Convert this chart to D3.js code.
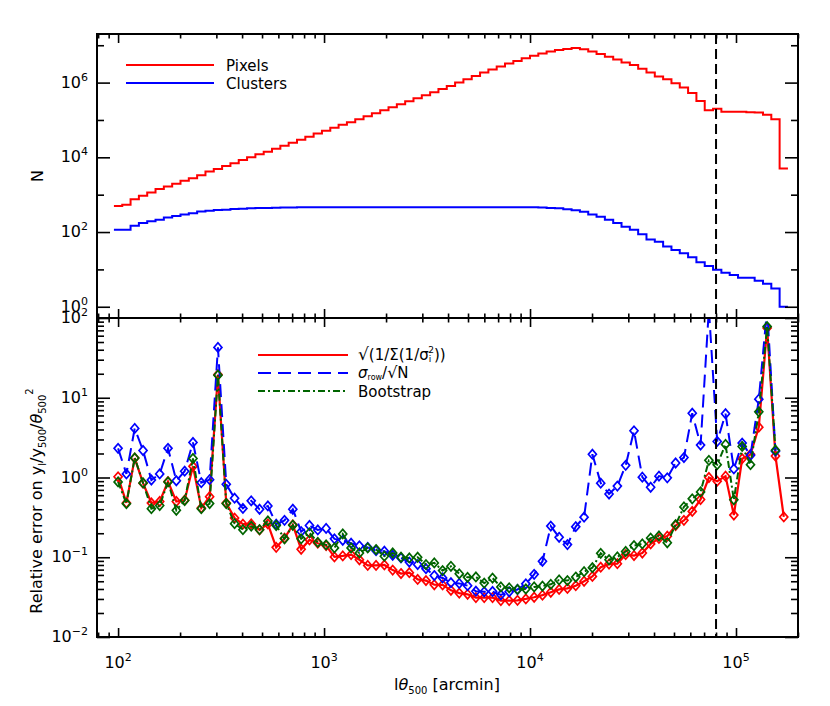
<!DOCTYPE html>
<html><head><meta charset="utf-8">
<script src="https://cdn.jsdelivr.net/npm/d3@7"></script>
<style>
body{margin:0;background:#fff}
text{font-family:"DejaVu Sans","Liberation Sans",sans-serif;fill:#000}
</style>
</head><body>
<svg id="c" width="830" height="706"></svg>
<script>
// ---------------- DATA ----------------
// logarithmic bins in l*theta500 (arcmin): first bin centre 10^2, width 0.0404 dex
const binCount = 81;
const firstBinLog = 2;
const binDex = 0.0404;
const binCenters = d3.range(binCount).map(i => Math.pow(10, firstBinLog + binDex * i));

// top panel: number of pixels / clusters per bin
const pixels = [
  501, 537, 759, 933, 1148, 1413, 1660, 1950, 2344, 2754,
  3311, 4169, 4898, 5888, 6918, 8511, 10000, 12023, 14125, 16982,
  20417, 24547, 29512, 35481, 43652, 51286, 61660, 74131, 87096, 104713,
  125893, 151356, 181970, 218776, 263027, 316228, 380189, 457088, 549541, 676083,
  812831, 1.0e6, 1.23e6, 1.51e6, 1.86e6, 2.24e6, 2.69e6, 3.24e6, 3.80e6, 4.47e6,
  5.25e6, 6.03e6, 6.76e6, 7.41e6, 7.94e6, 8.41e6, 7.76e6, 6.76e6, 5.82e6, 4.90e6,
  4.17e6, 3.47e6, 2.95e6, 2.34e6, 1.86e6, 1.45e6, 1.23e6, 9.55e5, 7.41e5, 5.25e5,
  3.24e5, 1.82e5, 2.00e5, 1.66e5, 1.66e5, 1.66e5, 1.62e5, 1.58e5, 1.38e5, 1.05e5,
  5.0e3
];
const clusters = [
  115, 115, 148, 174, 195, 214, 245, 269, 295, 316,
  355, 372, 389, 398, 412, 422, 432, 437, 442, 447,
  452, 457, 462, 462, 462, 462, 462, 462, 462, 462,
  462, 462, 462, 462, 462, 462, 462, 462, 462, 462,
  462, 462, 462, 462, 462, 462, 462, 462, 462, 462,
  462, 457, 442, 430, 407, 385, 347, 295, 257, 214,
  174, 138, 115, 87, 63, 55, 41, 33, 27, 21,
  15.5, 12.3, 9.8, 8.1, 7.1, 6.0, 6.0, 5.0, 4.1, 3.1,
  1.0
];

// bottom panel: relative error estimates
const errWeighted = [ // sqrt(1/sum(1/sigma_i^2))
  1.02, 0.48, 1.75, 0.85, 0.48, 0.50, 0.89, 0.50, 0.52, 1.38,
  0.415, 0.574, 19.5, 0.478, 0.31, 0.26, 0.262, 0.221, 0.262, 0.133,
  0.173, 0.255, 0.126, 0.165, 0.15, 0.14, 0.101, 0.104, 0.108, 0.093,
  0.079, 0.079, 0.080, 0.069, 0.0625, 0.064, 0.0527, 0.051, 0.0452, 0.045,
  0.0385, 0.0355, 0.0343, 0.0312, 0.0312, 0.0312, 0.0286, 0.0286, 0.0288, 0.030,
  0.0315, 0.0335, 0.0364, 0.0395, 0.0407, 0.044, 0.050, 0.0575, 0.075, 0.082,
  0.083, 0.108, 0.105, 0.113, 0.147, 0.172, 0.184, 0.25, 0.29, 0.376,
  0.53, 1.0, 0.90, 1.04, 0.338, 1.72, 1.95, 4.28, 75, 1.86,
  0.32
];
const errRaw = [ // sigma_row / sqrt(N)
  2.32, 1.11, 4.13, 2.18, 0.93, 1.11, 2.32, 0.91, 1.20, 2.75,
  0.86, 0.94, 42.8, 0.82, 0.55, 0.41, 0.51, 0.40, 0.44, 0.26,
  0.29, 0.40, 0.21, 0.25, 0.22, 0.23, 0.17, 0.163, 0.15, 0.139,
  0.133, 0.121, 0.119, 0.106, 0.098, 0.087, 0.081, 0.072, 0.059, 0.055,
  0.048, 0.047, 0.044, 0.0375, 0.0369, 0.0372, 0.0338, 0.0369, 0.0394, 0.0464,
  0.061, 0.089, 0.246, 0.178, 0.144, 0.242, 0.318, 1.96, 0.85, 0.62,
  0.78, 1.42, 3.85, 1.01, 0.755, 1.04, 0.99, 1.52, 1.78, 6.4,
  2.55, 130, 2.83, 6.3, 1.28, 2.70, 1.90, 9.6, 130, 2.14,
  null
];
const errBootstrap = [
  0.88, 0.47, 1.76, 0.855, 0.407, 0.445, 0.88, 0.388, 0.514, 1.73,
  0.407, 0.471, 19.2, 0.471, 0.264, 0.222, 0.245, 0.222, 0.285, 0.25,
  0.170, 0.252, 0.170, 0.202, 0.154, 0.143, 0.131, 0.196, 0.131, 0.113,
  0.131, 0.125, 0.103, 0.113, 0.100, 0.098, 0.100, 0.081, 0.085, 0.068,
  0.077, 0.062, 0.056, 0.0566, 0.0474, 0.0548, 0.0425, 0.0414, 0.0395, 0.040,
  0.0425, 0.0435, 0.0458, 0.052, 0.051, 0.0565, 0.066, 0.074, 0.112, 0.093,
  0.101, 0.118, 0.14, 0.147, 0.174, 0.185, 0.152, 0.256, 0.428, 0.54,
  0.66, 1.64, 1.45, 2.6, 0.525, 2.45, 1.45, 6.66, 78, 2.2,
  null
];

const xTickExponents = [2, 3, 4, 5];
const topYTickExponents = [0, 2, 4, 6];
const botYTickExponents = [-2, -1, 0, 1, 2];
const cutValue = 8e4;   // vertical dashed line
const topLegend = ["Pixels", "Clusters"];

// ---------------- LAYOUT ----------------
const svg = d3.select("#c");
const L = 97, R = 798;
const T1 = 34, B1 = 318, T2 = 318, B2 = 637;
const x = d3.scaleLog().domain([79, 2.0e5]).range([L, R]);
const yTop = d3.scaleLog().domain([0.5, 2e7]).range([B1, T1]);
const yBot = d3.scaleLog().domain([0.01, 100]).range([B2, T2]);

const RED = "#ff0000", BLUE = "#0000ff", GREEN = "#006400";

svg.append("rect").attr("width", 830).attr("height", 706).attr("fill", "#fff");

const defs = svg.append("defs");
defs.append("clipPath").attr("id", "clipTop").append("rect")
  .attr("x", L).attr("y", T1).attr("width", R - L).attr("height", B1 - T1);
defs.append("clipPath").attr("id", "clipBot").append("rect")
  .attr("x", L).attr("y", T2).attr("width", R - L).attr("height", B2 - T2);

function minorTicks(domain) {
  const out = [];
  const lo = Math.floor(Math.log10(domain[0])), hi = Math.ceil(Math.log10(domain[1]));
  for (let e = lo; e <= hi; e++) for (let m = 2; m <= 9; m++) {
    const v = m * Math.pow(10, e);
    if (v >= domain[0] && v <= domain[1]) out.push(v);
  }
  return out;
}
function drawTicks(g, axis, vals, len) {
  g.call(axis.tickValues(vals).tickSize(-len).tickFormat(""));
  g.select(".domain").remove();
  g.selectAll(".tick line").attr("stroke", "#000").attr("stroke-width", 1.6);
}

const xMajor = xTickExponents.map(e => Math.pow(10, e));
const xMinor = minorTicks(x.domain());
const yTopMajor = topYTickExponents.map(e => Math.pow(10, e));
const yTopMinor = [1, 3, 5, 7].map(e => Math.pow(10, e));
const yBotMajor = botYTickExponents.map(e => Math.pow(10, e));
const yBotMinor = minorTicks(yBot.domain());

function panelAxes(yScale, T, B, yMaj, yMin, yMajLen, yMinLen) {
  const g = svg.append("g");
  drawTicks(g.append("g").attr("transform", `translate(0,${B})`), d3.axisBottom(x), xMajor, 9);
  drawTicks(g.append("g").attr("transform", `translate(0,${B})`), d3.axisBottom(x), xMinor, 4.5);
  drawTicks(g.append("g").attr("transform", `translate(0,${T})`), d3.axisTop(x), xMajor, 9);
  drawTicks(g.append("g").attr("transform", `translate(0,${T})`), d3.axisTop(x), xMinor, 4.5);
  drawTicks(g.append("g").attr("transform", `translate(${L},0)`), d3.axisLeft(yScale), yMaj, yMajLen);
  drawTicks(g.append("g").attr("transform", `translate(${L},0)`), d3.axisLeft(yScale), yMin, yMinLen);
  drawTicks(g.append("g").attr("transform", `translate(${R},0)`), d3.axisRight(yScale), yMaj, yMajLen);
  drawTicks(g.append("g").attr("transform", `translate(${R},0)`), d3.axisRight(yScale), yMin, yMinLen);
  g.append("rect").attr("x", L).attr("y", T).attr("width", R - L).attr("height", B - T)
    .attr("fill", "none").attr("stroke", "#000").attr("stroke-width", 2);
}

function powerLabel(g, xPos, yPos, exp, anchor) {
  const t = g.append("text").attr("x", xPos).attr("y", yPos)
    .attr("text-anchor", anchor).attr("font-size", 16);
  t.append("tspan").text("10");
  t.append("tspan").attr("dy", -7).attr("font-size", 11)
    .text(exp < 0 ? "\u2212" + Math.abs(exp) : String(exp));
}

// ---------------- TOP PANEL ----------------
const gTop = svg.append("g").attr("clip-path", "url(#clipTop)");
function histPoints(vals) {
  const half = binDex / 2;
  const pts = binCenters.map((c, i) => [c, vals[i]]);
  pts.unshift([Math.pow(10, firstBinLog - half), vals[0]]);
  pts.push([Math.pow(10, firstBinLog + binDex * (binCount - 1) + half), vals[binCount - 1]]);
  return pts;
}
const histLine = d3.line().curve(d3.curveStep).x(d => x(d[0])).y(d => yTop(d[1]));
gTop.append("path").datum(histPoints(pixels)).attr("d", histLine)
  .attr("fill", "none").attr("stroke", RED).attr("stroke-width", 2);
gTop.append("path").datum(histPoints(clusters)).attr("d", histLine)
  .attr("fill", "none").attr("stroke", BLUE).attr("stroke-width", 2);

panelAxes(yTop, T1, B1, yTopMajor, yTopMinor, 13, 7);
topYTickExponents.forEach(e => powerLabel(svg, 88, yTop(Math.pow(10, e)) + 5, e, "end"));

[[RED, 65], [BLUE, 83]].forEach(([col, yy], k) => {
  svg.append("line").attr("x1", 126).attr("x2", 214).attr("y1", yy).attr("y2", yy)
    .attr("stroke", col).attr("stroke-width", 2);
  svg.append("text").attr("x", 226).attr("y", yy + 5.5).attr("font-size", 15).text(topLegend[k]);
});

svg.append("text").attr("transform", "translate(43,176) rotate(-90)")
  .attr("text-anchor", "middle").attr("font-size", 16).text("N");

// ---------------- BOTTOM PANEL ----------------
const gBot = svg.append("g").attr("clip-path", "url(#clipBot)");
const diamond = "M0,-4.6L4,0L0,4.6L-4,0Z";
function series(vals, col, dash, width) {
  const pts = binCenters.map((c, i) => [c, vals[i]]);
  const line = d3.line().defined(d => d[1] != null).x(d => x(d[0])).y(d => yBot(d[1]));
  gBot.append("path").datum(pts).attr("d", line).attr("fill", "none")
    .attr("stroke", col).attr("stroke-width", width)
    .attr("stroke-dasharray", dash);
  gBot.append("g").selectAll("path").data(pts.filter(d => d[1] != null)).join("path")
    .attr("d", diamond)
    .attr("transform", d => `translate(${x(d[0])},${yBot(d[1])})`)
    .attr("fill", "none").attr("stroke", col).attr("stroke-width", 1.7);
}
series(errWeighted, RED, null, 2.2);
series(errRaw, BLUE, "13,7", 2);
series(errBootstrap, GREEN, "7,3,2,3", 2);

svg.append("line").attr("x1", x(cutValue)).attr("x2", x(cutValue))
  .attr("y1", T1).attr("y2", B2).attr("stroke", "#000")
  .attr("stroke-width", 2).attr("stroke-dasharray", "10,5");

panelAxes(yBot, T2, B2, yBotMajor, yBotMinor, 13, 7);
botYTickExponents.forEach(e => powerLabel(svg, 88, yBot(Math.pow(10, e)) + 5, e, "end"));
xTickExponents.forEach(e => powerLabel(svg, x(Math.pow(10, e)), 668, e, "middle"));

// bottom legend
const lg = [
  [RED, 355, null],
  [BLUE, 373, "13,7"],
  [GREEN, 391, "7,3,2,3"]
];
lg.forEach(([col, yy, dash]) => {
  svg.append("line").attr("x1", 258).attr("x2", 348).attr("y1", yy).attr("y2", yy)
    .attr("stroke", col).attr("stroke-width", 2).attr("stroke-dasharray", dash);
});
const t1 = svg.append("text").attr("x", 358).attr("y", 360).attr("font-size", 15);
t1.append("tspan").attr("font-size", 17).text("\u221A");
t1.append("tspan").text("(1/\u03A3(1/\u03C3");
t1.append("tspan").attr("font-size", 9).attr("dy", 2).text("i");
t1.append("tspan").attr("font-size", 9).attr("dx", -3).attr("dy", -9).text("2");
t1.append("tspan").attr("dy", 7).text("))");
const t2 = svg.append("text").attr("x", 358).attr("y", 378).attr("font-size", 15);
t2.append("tspan").attr("font-style", "italic").text("\u03C3");
t2.append("tspan").attr("font-size", 8).attr("dy", 2).text("row");
t2.append("tspan").attr("dy", -2).text("/");
t2.append("tspan").attr("font-size", 16).text("\u221A");
t2.append("tspan").text("N");
svg.append("text").attr("x", 358).attr("y", 397).attr("font-size", 15).text("Bootstrap");

// axis titles
const xt = svg.append("text").attr("x", 447).attr("y", 690).attr("text-anchor", "middle").attr("font-size", 16);
xt.append("tspan").text("l");
xt.append("tspan").attr("font-style", "italic").text("\u03B8");
xt.append("tspan").attr("font-size", 10).attr("dy", 4).text("500");
xt.append("tspan").attr("dy", -4).text(" [arcmin]");

const yt = svg.append("text").attr("transform", "translate(42,501) rotate(-90)")
  .attr("text-anchor", "middle").attr("font-size", 16);
yt.append("tspan").text("Relative error on y");
yt.append("tspan").attr("font-size", 10).attr("dy", 4).text("l");
yt.append("tspan").attr("dy", -4).text("/y");
yt.append("tspan").attr("font-size", 10).attr("dy", 4).text("500");
yt.append("tspan").attr("dy", -4).text("/");
yt.append("tspan").attr("font-style", "italic").text("\u03B8");
yt.append("tspan").attr("font-size", 10).attr("dy", 4).text("500");
yt.append("tspan").attr("font-size", 10).attr("dy", -13).text("2");
</script>
</body></html>
